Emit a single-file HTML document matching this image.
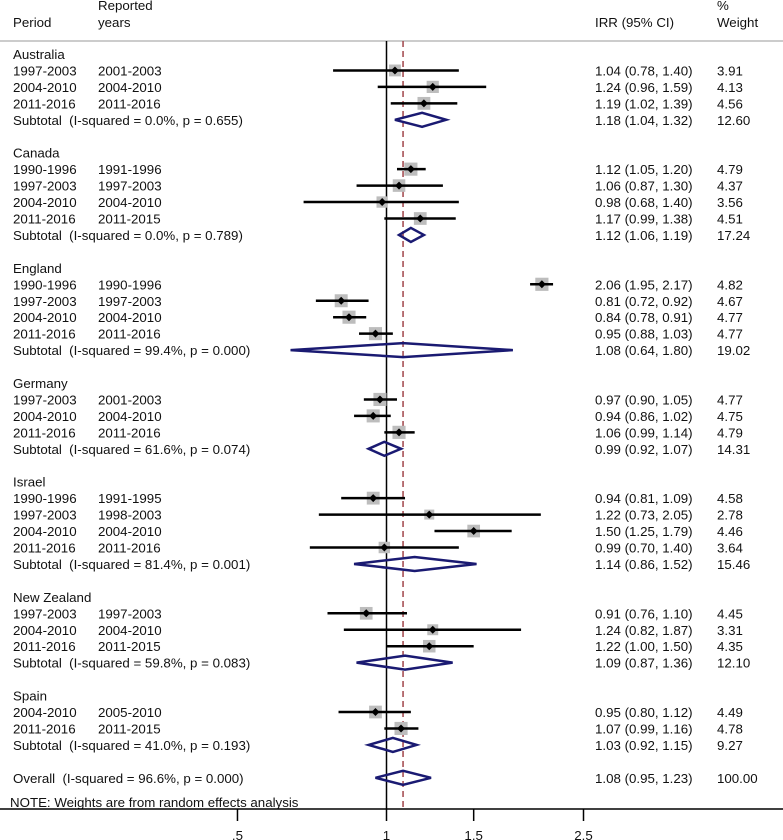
<!DOCTYPE html>
<html><head><meta charset="utf-8"><style>
html,body{margin:0;padding:0;background:#fff;}
svg{display:block;font-family:"Liberation Sans",Arial,sans-serif;font-size:13.3px;}
svg text{white-space:pre;}
</style></head><body>
<svg id="chart" width="783" height="840" viewBox="0 0 783 840" xmlns="http://www.w3.org/2000/svg" xml:space="preserve"></svg>
<script>
const rowType = ["g","s","s","s","t","b","g","s","s","s","s","t","b","g","s","s","s","s","t","b","g","s","s","s","t","b","g","s","s","s","s","t","b","g","s","s","s","t","b","g","s","s","t","b","o"];
const rowLabel = ["Australia","1997-2003","2004-2010","2011-2016","Subtotal  (I-squared = 0.0%, p = 0.655)","",
"Canada","1990-1996","1997-2003","2004-2010","2011-2016","Subtotal  (I-squared = 0.0%, p = 0.789)","",
"England","1990-1996","1997-2003","2004-2010","2011-2016","Subtotal  (I-squared = 99.4%, p = 0.000)","",
"Germany","1997-2003","2004-2010","2011-2016","Subtotal  (I-squared = 61.6%, p = 0.074)","",
"Israel","1990-1996","1997-2003","2004-2010","2011-2016","Subtotal  (I-squared = 81.4%, p = 0.001)","",
"New Zealand","1997-2003","2004-2010","2011-2016","Subtotal  (I-squared = 59.8%, p = 0.083)","",
"Spain","2004-2010","2011-2016","Subtotal  (I-squared = 41.0%, p = 0.193)","",
"Overall  (I-squared = 96.6%, p = 0.000)"];
const reported = ["","2001-2003","2004-2010","2011-2016","","","","1991-1996","1997-2003","2004-2010","2011-2015","","","","1990-1996","1997-2003","2004-2010","2011-2016","","","","2001-2003","2004-2010","2011-2016","","","","1991-1995","1998-2003","2004-2010","2011-2016","","","","1997-2003","2004-2010","2011-2015","","","","2005-2010","2011-2015","","",""];
const est = [null,1.04,1.24,1.19,1.18,null,null,1.12,1.06,0.98,1.17,1.12,null,null,2.06,0.81,0.84,0.95,1.08,null,null,0.97,0.94,1.06,0.99,null,null,0.94,1.22,1.50,0.99,1.14,null,null,0.91,1.24,1.22,1.09,null,null,0.95,1.07,1.03,null,1.08];
const lo = [null,0.78,0.96,1.02,1.04,null,null,1.05,0.87,0.68,0.99,1.06,null,null,1.95,0.72,0.78,0.88,0.64,null,null,0.90,0.86,0.99,0.92,null,null,0.81,0.73,1.25,0.70,0.86,null,null,0.76,0.82,1.00,0.87,null,null,0.80,0.99,0.92,null,0.95];
const hi = [null,1.40,1.59,1.39,1.32,null,null,1.20,1.30,1.40,1.38,1.19,null,null,2.17,0.92,0.91,1.03,1.80,null,null,1.05,1.02,1.14,1.07,null,null,1.09,2.05,1.79,1.40,1.52,null,null,1.10,1.87,1.50,1.36,null,null,1.12,1.16,1.15,null,1.23];
const weight = [null,3.91,4.13,4.56,12.60,null,null,4.79,4.37,3.56,4.51,17.24,null,null,4.82,4.67,4.77,4.77,19.02,null,null,4.77,4.75,4.79,14.31,null,null,4.58,2.78,4.46,3.64,15.46,null,null,4.45,3.31,4.35,12.10,null,null,4.49,4.78,9.27,null,100.00];
const tickVals = [0.5,1,1.5,2.5];
const tickLabels = [".5","1","1.5","2.5"];
const overallEst = 1.08;

const svg = document.getElementById('chart');
const NS = "http://www.w3.org/2000/svg";
const xScale = v => 386.5 + Math.log(v) * 215;
const yRow = i => 54 + i * 16.45;
function mk(tag, attrs, parent){const e=document.createElementNS(NS,tag);for(const k in attrs)e.setAttribute(k,attrs[k]);(parent||svg).appendChild(e);return e;}
function txt(x,y,s,name,extra){const t=mk('text',Object.assign({x:x,y:y,fill:'#111'},extra||{}));t.textContent=s;


return t;}

txt(98,10,"Reported","header-reported");
txt(98,27,"years","header-years");
txt(13,27,"Period","header-period");
txt(595,27,"IRR (95% CI)","header-irr");
txt(717,10,"%","header-percent");
txt(717,27,"Weight","header-weight");
const hl = mk('line',{x1:0,x2:783,y1:41,y2:41,stroke:'#bbb','stroke-width':1.5});



const nl = mk('line',{x1:xScale(1),x2:xScale(1),y1:41,y2:809,stroke:'#000','stroke-width':1.5});


const ol = mk('line',{x1:xScale(overallEst),x2:xScale(overallEst),y1:41,y2:809,stroke:'#a0444a','stroke-width':1.5,'stroke-dasharray':'6,4'});



for(let i=0;i<rowType.length;i++){
  const y=yRow(i), ty=rowType[i];
  if(ty==="b") continue;
  txt(13,y+5,rowLabel[i], ty==="g"?"group-label":(ty==="s"?"study-period":"subtotal-label"));
  if(reported[i]) txt(98,y+5,reported[i],"reported-years");
  if(est[i]===null) continue;
  txt(595,y+5,est[i].toFixed(2)+" ("+lo[i].toFixed(2)+", "+hi[i].toFixed(2)+")","irr-ci-text");
  txt(717,y+5,weight[i].toFixed(2),"weight-text");
  if(ty==="s"){
    const s=6*Math.sqrt(weight[i]);
    const b=mk('rect',{x:xScale(est[i])-s/2,y:y-s/2,width:s,height:s,fill:'#bdbdbd'});
    
    
    const l=mk('line',{x1:xScale(lo[i]),x2:xScale(hi[i]),y1:y,y2:y,stroke:'#000','stroke-width':2.5});
    
    
    const cx=xScale(est[i]);
    const d=mk('polygon',{points:`${cx-4},${y} ${cx},${y-4} ${cx+4},${y} ${cx},${y+4}`,fill:'#000'});
    
    
  } else {
    const cx=xScale(est[i]),a=xScale(lo[i]),c=xScale(hi[i]);
    const p=mk('polygon',{points:`${a},${y} ${cx},${y-7} ${c},${y} ${cx},${y+7}`,fill:'none',stroke:'#1a1a72','stroke-width':2.5,'stroke-linejoin':'miter'});
    
    
  }
}
txt(10,807,"NOTE: Weights are from random effects analysis","note-text");

const ax = mk('line',{x1:0,x2:783,y1:809,y2:809,stroke:'#000','stroke-width':1.5});


for(let k=0;k<tickVals.length;k++){
  const x=xScale(tickVals[k]);
  const t=mk('line',{x1:x,x2:x,y1:809,y2:821,stroke:'#000','stroke-width':1.5});
  
  
  txt(x,840,tickLabels[k],"x-tick-label",{'text-anchor':'middle'});
}
</script>
</body></html>
